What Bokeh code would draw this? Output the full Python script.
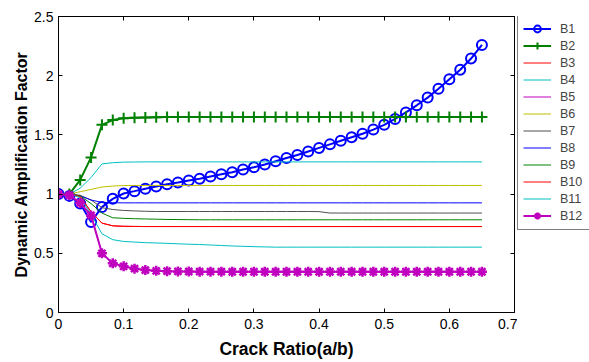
from bokeh.plotting import figure
from bokeh.layouts import row
from bokeh.models import Range1d, FixedTicker, LinearAxis, Legend, LegendItem
from bokeh.embed import file_html
from bokeh.resources import INLINE

# ---- data ----
crack_ratio = [0.0, 0.0167, 0.0333, 0.05, 0.0667, 0.0833, 0.1, 0.1167, 0.1333, 0.15,
               0.1667, 0.1833, 0.2, 0.2167, 0.2333, 0.25, 0.2667, 0.2833, 0.3, 0.3167,
               0.3333, 0.35, 0.3667, 0.3833, 0.4, 0.4167, 0.4333, 0.45, 0.4667, 0.4833,
               0.5, 0.5167, 0.5333, 0.55, 0.5667, 0.5833, 0.6, 0.6167, 0.6333, 0.65]

B1 = [1.00, 0.985, 0.92, 0.765, 0.89, 0.96, 1.005, 1.025, 1.045, 1.064,
      1.084, 1.098, 1.115, 1.13, 1.149, 1.168, 1.185, 1.207, 1.227, 1.25,
      1.277, 1.305, 1.33, 1.36, 1.39, 1.42, 1.45, 1.48, 1.51, 1.545,
      1.585, 1.635, 1.69, 1.75, 1.815, 1.89, 1.97, 2.05, 2.145, 2.26]
B2 = [1.00, 1.00, 1.12, 1.31, 1.585, 1.625, 1.64, 1.645, 1.648, 1.65,
      1.652, 1.652, 1.652, 1.652, 1.652, 1.652, 1.652, 1.652, 1.652, 1.652,
      1.652, 1.652, 1.652, 1.652, 1.652, 1.652, 1.652, 1.652, 1.652, 1.652,
      1.652, 1.652, 1.652, 1.652, 1.652, 1.652, 1.652, 1.652, 1.652, 1.652]
B3 = [1.00, 1.00, 0.98, 0.85, 0.755, 0.732, 0.728, 0.727, 0.726, 0.726,
      0.726, 0.726, 0.726, 0.726, 0.726, 0.726, 0.726, 0.726, 0.726, 0.726,
      0.726, 0.726, 0.726, 0.726, 0.726, 0.726, 0.726, 0.726, 0.726, 0.726,
      0.726, 0.726, 0.726, 0.726, 0.726, 0.726, 0.726, 0.726, 0.726, 0.726]
B4 = [1.00, 1.00, 1.05, 1.14, 1.255, 1.265, 1.27, 1.271, 1.272, 1.272,
      1.272, 1.272, 1.272, 1.272, 1.272, 1.272, 1.272, 1.272, 1.272, 1.272,
      1.272, 1.272, 1.272, 1.272, 1.272, 1.272, 1.272, 1.272, 1.272, 1.272,
      1.272, 1.272, 1.272, 1.272, 1.272, 1.272, 1.272, 1.272, 1.272, 1.272]
B5 = [1.00, 0.99, 0.925, 0.82, 0.50, 0.415, 0.39, 0.37, 0.358, 0.352,
      0.349, 0.347, 0.346, 0.345, 0.345, 0.345, 0.344, 0.344, 0.344, 0.344,
      0.344, 0.344, 0.344, 0.344, 0.344, 0.344, 0.344, 0.344, 0.344, 0.344,
      0.344, 0.344, 0.344, 0.344, 0.344, 0.344, 0.344, 0.344, 0.344, 0.344]
B6 = [1.00, 1.00, 1.02, 1.04, 1.06, 1.068, 1.072, 1.073, 1.073, 1.073,
      1.073, 1.073, 1.073, 1.073, 1.073, 1.073, 1.073, 1.073, 1.073, 1.073,
      1.073, 1.073, 1.073, 1.073, 1.073, 1.073, 1.073, 1.073, 1.073, 1.073,
      1.073, 1.073, 1.073, 1.073, 1.073, 1.073, 1.073, 1.073, 1.073, 1.073]
B7 = [1.00, 1.00, 0.99, 0.95, 0.885, 0.87, 0.862, 0.858, 0.855, 0.853,
      0.853, 0.853, 0.853, 0.853, 0.853, 0.853, 0.853, 0.853, 0.853, 0.853,
      0.853, 0.853, 0.853, 0.853, 0.852, 0.84, 0.84, 0.84, 0.84, 0.84,
      0.84, 0.84, 0.84, 0.84, 0.84, 0.84, 0.84, 0.84, 0.84, 0.84]
B8 = [1.00, 1.00, 0.985, 0.95, 0.93, 0.927, 0.926, 0.926, 0.926, 0.926,
      0.926, 0.926, 0.926, 0.926, 0.926, 0.926, 0.926, 0.926, 0.926, 0.926,
      0.926, 0.926, 0.926, 0.926, 0.926, 0.926, 0.926, 0.926, 0.926, 0.926,
      0.926, 0.926, 0.926, 0.926, 0.926, 0.926, 0.926, 0.926, 0.926, 0.926]
B9 = [1.00, 1.00, 0.985, 0.92, 0.84, 0.80, 0.795, 0.792, 0.79, 0.788,
      0.786, 0.785, 0.784, 0.783, 0.783, 0.783, 0.783, 0.783, 0.783, 0.783,
      0.783, 0.783, 0.783, 0.783, 0.783, 0.783, 0.783, 0.783, 0.783, 0.783,
      0.783, 0.783, 0.783, 0.783, 0.783, 0.783, 0.783, 0.783, 0.783, 0.783]
B10 = [1.00, 1.00, 0.98, 0.85, 0.755, 0.732, 0.728, 0.727, 0.726, 0.726,
       0.726, 0.726, 0.726, 0.726, 0.726, 0.726, 0.726, 0.726, 0.726, 0.726,
       0.726, 0.726, 0.726, 0.726, 0.726, 0.726, 0.726, 0.726, 0.726, 0.726,
       0.726, 0.726, 0.726, 0.726, 0.726, 0.726, 0.726, 0.726, 0.726, 0.726]
B11 = [1.00, 1.00, 0.97, 0.83, 0.665, 0.615, 0.60, 0.595, 0.59, 0.587,
       0.584, 0.58, 0.577, 0.574, 0.57, 0.566, 0.562, 0.559, 0.556, 0.554,
       0.552, 0.552, 0.552, 0.552, 0.552, 0.552, 0.552, 0.552, 0.552, 0.552,
       0.552, 0.552, 0.552, 0.552, 0.552, 0.552, 0.552, 0.552, 0.552, 0.552]
B12 = [1.00, 0.99, 0.925, 0.82, 0.50, 0.415, 0.39, 0.37, 0.358, 0.352,
       0.349, 0.347, 0.346, 0.345, 0.345, 0.345, 0.344, 0.344, 0.344, 0.344,
       0.344, 0.344, 0.344, 0.344, 0.344, 0.344, 0.344, 0.344, 0.344, 0.344,
       0.344, 0.344, 0.344, 0.344, 0.344, 0.344, 0.344, 0.344, 0.344, 0.344]

series_names = ["B1", "B2", "B3", "B4", "B5", "B6", "B7", "B8", "B9", "B10", "B11", "B12"]
series_values = [B1, B2, B3, B4, B5, B6, B7, B8, B9, B10, B11, B12]
series_colors = ["#0000FF", "#008000", "#FF0000", "#00BFBF", "#BF00BF", "#BFBF00",
                 "#505050", "#0000FF", "#008000", "#FF0000", "#00BFBF", "#BF00BF"]
series_markers = ["circle", "cross", None, None, None, None, None, None, None, None, None, "asterisk"]

x_ticks = [0, 0.1, 0.2, 0.3, 0.4, 0.5, 0.6, 0.7]
x_tick_labels = ["0", "0.1", "0.2", "0.3", "0.4", "0.5", "0.6", "0.7"]
y_ticks = [0, 0.5, 1, 1.5, 2, 2.5]
y_tick_labels = ["0", "0.5", "1", "1.5", "2", "2.5"]

FONT = "Liberation Sans"

p = figure(width=517, height=362, output_backend="svg", toolbar_location=None,
           x_range=Range1d(0, 0.7), y_range=Range1d(0, 2.5),
           min_border_left=58, min_border_right=3, min_border_top=16, min_border_bottom=50)
p.grid.visible = False
p.outline_line_color = "black"
p.background_fill_color = "white"
p.border_fill_color = "white"

def style_axis(ax, ticks, labels, show_labels=True):
    ax.ticker = FixedTicker(ticks=ticks)
    ax.major_tick_in = 4
    ax.major_tick_out = 0
    ax.minor_tick_in = 0
    ax.minor_tick_out = 0
    ax.axis_line_color = "black"
    ax.major_tick_line_color = "black"
    ax.major_label_text_font = FONT
    ax.major_label_text_color = "black"
    if show_labels:
        ax.major_label_overrides = {t: l for t, l in zip(ticks, labels)}
        ax.major_label_text_font_size = "14px"
    else:
        ax.major_label_overrides = {t: "" for t in ticks}
        ax.major_label_text_font_size = "1px"
        ax.major_label_standoff = 0

style_axis(p.xaxis[0], x_ticks, x_tick_labels)
style_axis(p.yaxis[0], y_ticks, y_tick_labels)
p.xaxis[0].major_label_standoff = 6
p.yaxis[0].major_label_standoff = 5
p.xaxis.axis_label = "Crack Ratio(a/b)"
p.yaxis.axis_label = "Dynamic Amplification Factor"
for ax in (p.xaxis[0], p.yaxis[0]):
    ax.axis_label_text_font = FONT
    ax.axis_label_text_font_style = "bold"
    ax.axis_label_text_color = "black"
p.xaxis[0].axis_label_text_font_size = "17.5px"
p.yaxis[0].axis_label_text_font_size = "16px"
p.xaxis[0].axis_label_standoff = 7
p.yaxis[0].axis_label_standoff = 1

top_ax = LinearAxis()
style_axis(top_ax, x_ticks, x_tick_labels, show_labels=False)
p.add_layout(top_ax, "above")
right_ax = LinearAxis()
style_axis(right_ax, y_ticks, y_tick_labels, show_labels=False)
p.add_layout(right_ax, "right")

# legend lives in a narrow companion figure to the right of the frame;
# its ranges are set so that its own copies of the series stay out of view
pl = figure(width=72, height=362, output_backend="svg", toolbar_location=None,
            x_range=Range1d(-3, -2), y_range=Range1d(-3, -2),
            min_border=0, min_border_left=0, min_border_right=0,
            min_border_top=0, min_border_bottom=0)
pl.axis.visible = False
pl.grid.visible = False
pl.outline_line_color = None
pl.background_fill_color = "white"
pl.border_fill_color = "white"

items = []
for name, vals, col, mk in zip(series_names, series_values, series_colors, series_markers):
    lw = 2 if mk else 1
    p.line(crack_ratio, vals, line_color=col, line_width=lw)
    leg_rends = [pl.line(crack_ratio, vals, line_color=col, line_width=lw)]
    if mk == "circle":
        p.scatter(crack_ratio, vals, marker="circle", size=10, line_color=col,
                  line_width=2, fill_color=None)
        leg_rends.append(pl.scatter(crack_ratio, vals, marker="circle", size=10, line_color=col,
                                    line_width=2, fill_color=None))
    elif mk == "cross":
        p.scatter(crack_ratio, vals, marker="cross", size=11, line_color=col, line_width=2)
        leg_rends.append(pl.scatter(crack_ratio, vals, marker="cross", size=11, line_color=col,
                                    line_width=2))
    elif mk == "asterisk":
        p.scatter(crack_ratio, vals, marker="asterisk", size=10, line_color=col, line_width=2.5)
        leg_rends.append(pl.scatter(crack_ratio, vals, marker="asterisk", size=10, line_color=col,
                                    line_width=2.5))
    items.append(LegendItem(label=name, renderers=leg_rends))

legend = Legend(items=items, location=(0, 82), margin=0, padding=5, spacing=0,
                label_height=17, glyph_height=17, glyph_width=28, label_standoff=9,
                label_width=24, label_text_font=FONT, label_text_font_size="12.5px",
                border_line_color="black", border_line_width=1,
                background_fill_color="white", background_fill_alpha=1)
pl.add_layout(legend, "center")

layout = row(p, pl, spacing=0)
open("out.html", "w").write(file_html(layout, INLINE))
